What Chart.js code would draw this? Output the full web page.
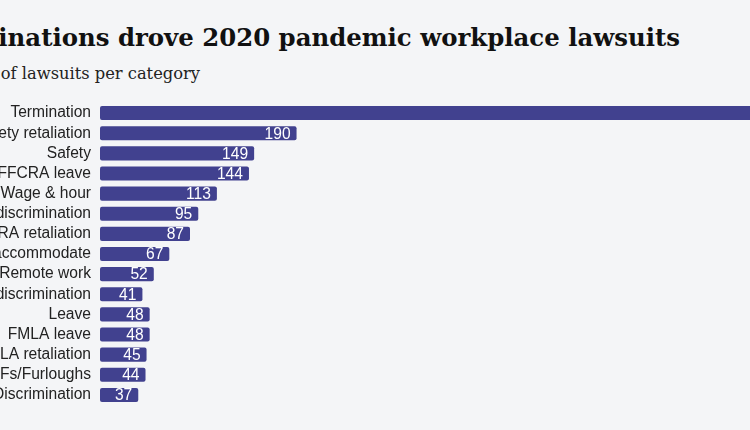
<!DOCTYPE html>
<html>
<head>
<meta charset="utf-8">
<script src="https://cdn.jsdelivr.net/npm/chart.js@4/dist/chart.umd.min.js"></script>
<style>
  html, body { margin: 0; padding: 0; }
  body {
    width: 750px; height: 430px; overflow: hidden; position: relative;
    background: #f4f5f7;
  }
  .title {
    position: absolute; right: 70px; top: 24px; white-space: nowrap;
    font: bold 24.4px "DejaVu Serif", serif; color: #111; line-height: 28px;
  }
  .subtitle {
    position: absolute; right: 550px; top: 63px; white-space: nowrap;
    font: 16.3px "DejaVu Serif", serif; color: #222; line-height: 22px;
  }
  .wrap {
    position: absolute; left: -200px; top: 103px; width: 1200px; height: 302px;
  }
</style>
</head>
<body>
<div class="title">Terminations drove 2020 pandemic workplace lawsuits</div>
<div class="subtitle">Number of lawsuits per category</div>
<div class="wrap"><canvas id="chartBars"></canvas></div>
<script>
const categories = [
  'Termination', 'Safety retaliation', 'Safety', 'FFCRA leave', 'Wage & hour',
  'Disability discrimination', 'FFCRA retaliation', 'Failure to accommodate',
  'Remote work', 'Age discrimination', 'Leave', 'FMLA leave', 'FMLA retaliation',
  'RIFs/Furloughs', 'Discrimination'
];
const lawsuits = [700, 190, 149, 144, 113, 95, 87, 67, 52, 41, 48, 48, 45, 44, 37];
const xMax = 870;

const bar = '#41418f';
const fnt = { family: 'Liberation Sans', size: 15.6 };

// white value labels inside the bar ends
const valueLabels = {
  id: 'valueLabels',
  afterDatasetsDraw(chart) {
    const ctx = chart.ctx;
    const meta = chart.getDatasetMeta(0);
    ctx.save();
    ctx.font = '15.6px "Liberation Sans"';
    ctx.fillStyle = '#fff';
    ctx.textAlign = 'right';
    ctx.textBaseline = 'middle';
    meta.data.forEach((el, i) => {
      ctx.fillText(String(lawsuits[i]), el.x - 6, el.y + 1);
    });
    ctx.restore();
  }
};

new Chart(document.getElementById('chartBars'), {
  type: 'bar',
  data: {
    labels: categories,
    datasets: [{
      data: lawsuits,
      backgroundColor: bar,
      borderRadius: 2,
      borderSkipped: false,
      barPercentage: 0.7,
      categoryPercentage: 1,
    }],
  },
  options: {
    indexAxis: 'y',
    responsive: true,
    maintainAspectRatio: false,
    animation: false,
    layout: { padding: 0 },
    plugins: { legend: { display: false }, tooltip: { enabled: false } },
    scales: {
      x: { display: false, min: 0, max: xMax },
      y: {
        grid: { display: false, drawTicks: false },
        border: { display: false },
        ticks: { color: '#222', font: fnt, padding: 9, autoSkip: false },
        afterFit: s => {
          s.width = 300;
          s.paddingTop = 0;
          s.paddingBottom = 0;
        },
      },
    },
  },
  plugins: [valueLabels],
});
</script>
</body>
</html>
